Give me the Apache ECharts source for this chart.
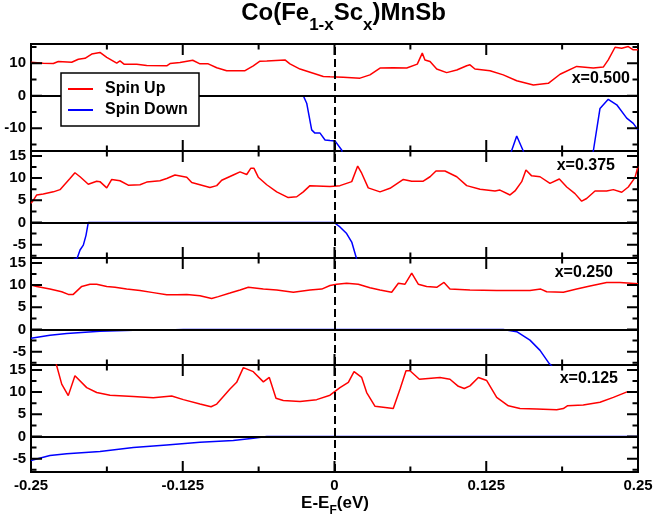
<!DOCTYPE html>
<html><head><meta charset="utf-8">
<script src="https://cdn.jsdelivr.net/npm/echarts@6/dist/echarts.min.js"></script>
<style>html,body{margin:0;padding:0;background:#fff}#c{width:657px;height:517px}</style>
</head><body><div id="c"></div>
<script>
// ---- data ----
const panelLabels = ['x=0.500', 'x=0.375', 'x=0.250', 'x=0.125'];
const xMajorTicks = [-0.25, -0.125, 0, 0.125, 0.25];
const xMinorTicks = [-0.1875, -0.0625, 0.0625, 0.1875];

const yRange_500 = [-17, 15.9];
const yRange_other = [-8, 16.1];
const yMajor_500 = [-10, 0, 10];
const yMinor_500 = [-15, -5, 5, 15];
const yMajor_other = [-5, 0, 5, 10, 15];
const yMinor_other = [-7.5, -2.5, 2.5, 7.5, 12.5];

// x = 0.500
const upE_500 = [-0.25,-0.2399,-0.2316,-0.2275,-0.2165,-0.2110,-0.2055,-0.2000,-0.1932,-0.1876,-0.1794,-0.1767,-0.1734,-0.1629,-0.1547,-0.1382,-0.1355,-0.1273,-0.1168,-0.1108,-0.1040,-0.0970,-0.0888,-0.0737,-0.0669,-0.0614,-0.0558,-0.0408,-0.0394,-0.0367,-0.0284,-0.0175,-0.0092,-0.0037,0.0072,0.0210,0.0292,0.0375,0.0484,0.0595,0.0682,0.0723,0.0745,0.0787,0.0842,0.0924,0.1007,0.1089,0.1116,0.1157,0.1281,0.1390,0.1501,0.1638,0.1761,0.1858,0.1995,0.2132,0.2214,0.2255,0.2311,0.2366,0.2420,0.2461,0.25];
const upDos_500 = [10.3,10.0,9.9,10.5,10.3,11.2,11.5,12.8,13.3,11.8,10.0,10.7,9.7,9.7,9.3,9.2,9.9,10.2,10.9,9.8,9.8,8.6,7.7,7.7,9.2,10.6,10.7,11.0,11.3,9.8,8.2,6.9,5.9,5.8,5.7,5.4,6.4,8.5,8.6,8.5,9.7,13.1,11.0,10.5,8.2,7.1,7.9,9.2,9.5,8.2,7.7,6.4,4.6,3.3,3.8,6.6,9.0,8.5,8.8,11.0,14.9,14.6,15.1,14.1,14.1];
const dnE_500 = [-0.25,-0.0257,-0.0229,-0.0188,-0.0161,-0.0119,-0.0078,-0.0037,0.0004,0.0059,0.0090,0.1400,0.1458,0.1501,0.1555,0.1600,0.2080,0.2132,0.2187,0.2255,0.2325,0.2407,0.2461,0.25];
const dnDos_500 = [0,0,-2.3,-10.5,-11.5,-11.5,-13.6,-13.8,-13.9,-16.7,-22,-22,-17,-12.4,-17,-22,-22,-17,-3.9,-1.1,-2.8,-6.9,-8.5,-10.5];

// x = 0.375
const upE_375 = [-0.25,-0.2481,-0.2453,-0.2399,-0.2316,-0.2261,-0.2179,-0.2138,-0.2096,-0.2028,-0.1959,-0.1932,-0.1876,-0.1835,-0.1767,-0.1699,-0.1602,-0.1547,-0.1438,-0.1382,-0.1314,-0.1217,-0.1176,-0.1026,-0.0970,-0.0929,-0.0834,-0.0778,-0.0723,-0.0690,-0.0663,-0.0628,-0.0558,-0.0476,-0.0381,-0.0311,-0.0257,-0.0202,-0.0037,0.0045,0.0142,0.0191,0.0224,0.0278,0.0375,0.0457,0.0567,0.0636,0.0731,0.0787,0.0836,0.0910,0.1007,0.1089,0.1199,0.1322,0.1363,0.1446,0.1487,0.1542,0.1577,0.1624,0.1693,0.1775,0.1852,0.1913,0.1981,0.2036,0.2077,0.2146,0.2242,0.2297,0.2366,0.2420,0.2475,0.25];
const upDos_375 = [4.3,5.0,6.2,6.4,6.9,7.4,9.9,11.2,10.3,8.6,9.3,9.2,7.8,9.7,9.4,8.4,8.5,9.1,9.4,9.9,10.7,10.2,9.0,7.9,8.3,9.5,10.7,11.4,10.8,12.2,12.2,10.2,8.5,6.9,5.6,5.8,6.9,8.3,8.1,8.3,9.2,12.7,11.1,7.8,6.9,7.7,9.7,9.3,9.3,10.3,11.6,11.6,10.3,8.3,7.5,7.1,7.3,6.2,7.1,9.2,11.8,10.5,10.3,8.8,9.8,8.0,6.5,4.8,5.4,7.1,7.1,7.4,6.8,8.0,10.1,12.6];
const dnE_375 = [-0.25,-0.2119,-0.2096,-0.2069,-0.2047,-0.2028,-0.0004,0.0045,0.0100,0.0142,0.0177,0.0200,0.25];
const dnDos_375 = [-12,-8,-6.2,-5.1,-2.9,0,0,-1.0,-2.5,-4.4,-7.7,-10,-12];

// x = 0.250
const upE_250 = [-0.25,-0.2453,-0.2344,-0.2247,-0.2193,-0.2152,-0.2082,-0.2014,-0.1959,-0.1876,-0.1808,-0.1712,-0.1602,-0.1493,-0.1382,-0.1300,-0.1217,-0.1108,-0.1012,-0.0957,-0.0861,-0.0778,-0.0710,-0.0586,-0.0476,-0.0339,-0.0202,-0.0105,-0.0037,0.0018,0.0100,0.0196,0.0292,0.0375,0.0471,0.0526,0.0581,0.0636,0.0690,0.0759,0.0842,0.0902,0.0951,0.1116,0.1336,0.1610,0.1699,0.1748,0.1885,0.1995,0.2105,0.2242,0.2352,0.25];
const upDos_250 = [10.0,9.7,9.1,8.5,7.9,7.9,9.7,10.2,10.2,9.7,9.5,9.1,8.8,8.3,7.8,7.8,7.9,7.6,7.0,7.4,8.2,8.9,9.5,9.1,8.9,8.4,8.9,9.1,9.9,10.2,10.4,10.2,9.4,8.9,8.4,10.4,10.2,12.7,10.2,9.7,9.5,10.6,9.1,8.9,8.8,8.8,9.1,8.5,8.4,9.1,9.8,10.6,10.6,10.3];
const dnE_250 = [-0.25,-0.2344,-0.2206,-0.1932,-0.1657,-0.1382,-0.1245,0.1390,0.1501,0.1610,0.1693,0.1769,0.1900,0.25];
const dnDos_250 = [-2.0,-1.3,-0.9,-0.4,-0.2,-0.1,0,0,-0.5,-2.4,-4.7,-7.7,-11,-14];

// x = 0.125
const upE_125 = [-0.25,-0.2302,-0.2247,-0.2193,-0.2138,-0.2041,-0.1959,-0.1849,-0.1657,-0.1493,-0.1341,-0.1245,-0.1108,-0.1017,-0.0970,-0.0861,-0.0806,-0.0751,-0.0669,-0.0586,-0.0537,-0.0482,-0.0422,-0.0284,-0.0147,-0.0037,0.0045,0.0114,0.0161,0.0224,0.0265,0.0334,0.0484,0.0540,0.0589,0.0622,0.0699,0.0869,0.0951,0.1020,0.1069,0.1116,0.1185,0.1254,0.1336,0.1432,0.1528,0.1666,0.1830,0.1885,0.1918,0.2049,0.2187,0.2297,0.2415,0.25];
const upDos_125 = [22,17.3,11.8,9.2,13.7,11.0,9.9,9.3,9.0,8.7,9.1,8.3,7.3,6.7,7.3,10.7,12.2,15.5,14.6,12.3,13.3,8.6,8.1,7.9,8.3,9.3,11.0,12.2,14.6,13.3,9.9,6.8,6.3,10.7,14.8,14.8,12.9,13.3,12.9,11.3,10.8,11.4,13.3,12.6,8.8,6.9,6.3,6.2,6.0,6.3,6.9,7.1,7.7,8.8,10.1,10.1];
const dnE_125 = [-0.25,-0.2344,-0.2206,-0.1932,-0.1657,-0.1382,-0.1108,-0.0834,-0.0669,-0.0558,0.25];
const dnDos_125 = [-5.4,-4.3,-3.9,-3.4,-2.5,-1.9,-1.3,-0.9,-0.4,0,0];

// ---- build ----
const FONT = 'Liberation Sans';
const zip = (a, b) => a.map((v, i) => [v, b[i]]);

const panels = [
  {up: zip(upE_500, upDos_500), dn: zip(dnE_500, dnDos_500), range: yRange_500, major: yMajor_500, minor: yMinor_500},
  {up: zip(upE_375, upDos_375), dn: zip(dnE_375, dnDos_375), range: yRange_other, major: yMajor_other, minor: yMinor_other},
  {up: zip(upE_250, upDos_250), dn: zip(dnE_250, dnDos_250), range: yRange_other, major: yMajor_other, minor: yMinor_other},
  {up: zip(upE_125, upDos_125), dn: zip(dnE_125, dnDos_125), range: yRange_other, major: yMajor_other, minor: yMinor_other}
];
const annotPos = [[630, 79], [615, 166], [613, 273], [618, 379]];

const CHART_W = 657, GRID_LEFT = 31, GRID_RIGHT = 19, GRID_TOP = 44, GRID_H = 107;
const PLOT_W = CHART_W - GRID_LEFT - GRID_RIGHT;
const X_MIN = xMajorTicks[0], X_MAX = xMajorTicks[xMajorTicks.length - 1];
const MAJOR_LEN = 11, MINOR_LEN = 5.5; // tick lengths in pixels
const labelStyle = {color: '#000', fontSize: 15, fontWeight: 'bold', fontFamily: FONT};
const GAP = ['-', '-'];

// inward tick marks on all four sides of a panel, as short line pieces in the panel's data space
function tickPath(p) {
  const [y0, y1] = p.range;
  const ky = (y1 - y0) / GRID_H, kx = (X_MAX - X_MIN) / PLOT_W;
  const pts = [];
  const seg = (a, b) => { pts.push(a, b, GAP); };
  const xt = (vals, len) => vals.forEach(v => { seg([v, y0], [v, y0 + len * ky]); seg([v, y1], [v, y1 - len * ky]); });
  const yt = (vals, len) => vals.forEach(v => { seg([X_MIN, v], [X_MIN + len * kx, v]); seg([X_MAX, v], [X_MAX - len * kx, v]); });
  xt(xMajorTicks.slice(1, -1), MAJOR_LEN); xt(xMinorTicks, MINOR_LEN);
  yt(p.major, MAJOR_LEN); yt(p.minor, MINOR_LEN);
  return pts;
}

const grid = [], xAxis = [], yAxis = [], series = [];
panels.forEach((p, i) => {
  grid.push({left: GRID_LEFT, right: GRID_RIGHT, top: GRID_TOP + GRID_H * i, height: GRID_H,
    show: true, borderColor: '#000', borderWidth: 2, backgroundColor: 'transparent'});
  xAxis.push({
    gridIndex: i, type: 'value', position: 'bottom', min: X_MIN, max: X_MAX, interval: 0.125,
    axisLine: {show: false, onZero: false}, axisTick: {show: false}, minorTick: {show: false},
    splitLine: {show: false},
    axisLabel: Object.assign({show: i === 3, margin: 6, customValues: xMajorTicks}, labelStyle)
  });
  yAxis.push({
    gridIndex: i, type: 'value', position: 'left', min: p.range[0], max: p.range[1],
    axisLine: {show: false, onZero: false}, axisTick: {show: false}, splitLine: {show: false},
    axisLabel: Object.assign({margin: 5, customValues: p.major}, labelStyle)
  });
  series.push({
    name: 'Spin Down', type: 'line', xAxisIndex: i, yAxisIndex: i, data: p.dn,
    symbol: 'none', showSymbol: false, clip: true, z: 2,
    lineStyle: {color: '#0000ff', width: 1.5}, itemStyle: {color: '#0000ff'}
  });
  series.push({
    name: 'Spin Up', type: 'line', xAxisIndex: i, yAxisIndex: i, data: p.up,
    symbol: 'none', showSymbol: false, clip: true, z: 3,
    lineStyle: {color: '#ff0000', width: 1.5}, itemStyle: {color: '#ff0000'},
    markLine: {
      silent: true, symbol: ['none', 'none'], label: {show: false}, animation: false,
      data: [
        {xAxis: 0, lineStyle: {color: '#000', width: 2, type: [8, 4]}},
        {yAxis: 0, lineStyle: {color: '#000', width: 2, type: 'solid'}}
      ]
    }
  });
  series.push({
    name: 'ticks', type: 'line', xAxisIndex: i, yAxisIndex: i, data: tickPath(p),
    symbol: 'none', showSymbol: false, clip: false, silent: true, connectNulls: false, z: 6,
    lineStyle: {color: '#000', width: 2, cap: 'butt'}, itemStyle: {color: '#000'},
    emphasis: {disabled: true}, tooltip: {show: false}
  });
});

const graphic = [
  {type: 'text', x: 343.5, y: 1, z: 100, style: {
    text: '{a|Co(Fe}{s|1-x}{a|Sc}{s|x}{a|)MnSb}', align: 'center', verticalAlign: 'top',
    rich: {
      a: {fontSize: 24, fontWeight: 'bold', fontFamily: FONT, lineHeight: 24, verticalAlign: 'top', fill: '#000'},
      s: {fontSize: 17, fontWeight: 'bold', fontFamily: FONT, lineHeight: 17, padding: [16, 0, 0, 0], verticalAlign: 'top', fill: '#000'}
    }}},
  {type: 'text', x: 335, y: 495, z: 100, style: {
    text: '{a|E-E}{s|F}{a|(eV)}', align: 'center', verticalAlign: 'top',
    rich: {
      a: {fontSize: 17, fontWeight: 'bold', fontFamily: FONT, lineHeight: 17, verticalAlign: 'top', fill: '#000'},
      s: {fontSize: 12, fontWeight: 'bold', fontFamily: FONT, lineHeight: 12, padding: [10, 0, 0, 0], verticalAlign: 'top', fill: '#000'}
    }}}
];
panelLabels.forEach((t, i) => {
  graphic.push({type: 'text', x: annotPos[i][0], y: annotPos[i][1], z: 100, style: {
    text: t, align: 'right', verticalAlign: 'middle', fill: '#000',
    fontSize: 16, fontWeight: 'bold', fontFamily: FONT}});
});

const option = {
  animation: false,
  backgroundColor: '#fff',
  legend: {
    data: ['Spin Up', 'Spin Down'], orient: 'vertical', left: 61, top: 73, z: 10,
    backgroundColor: '#fff', borderColor: '#000', borderWidth: 1.5,
    padding: [8, 6, 8, 7], itemGap: 5, itemWidth: 25, itemHeight: 2, icon: 'rect', selectedMode: false,
    textStyle: {color: '#000', fontSize: 16, fontWeight: 'bold', fontFamily: FONT, padding: [0, 0, 0, 7], width: 88, lineHeight: 16}
  },
  grid, xAxis, yAxis, series, graphic
};

const chart = echarts.init(document.getElementById('c'), null, {renderer: 'canvas'});
chart.setOption(option);
</script>
</body></html>
